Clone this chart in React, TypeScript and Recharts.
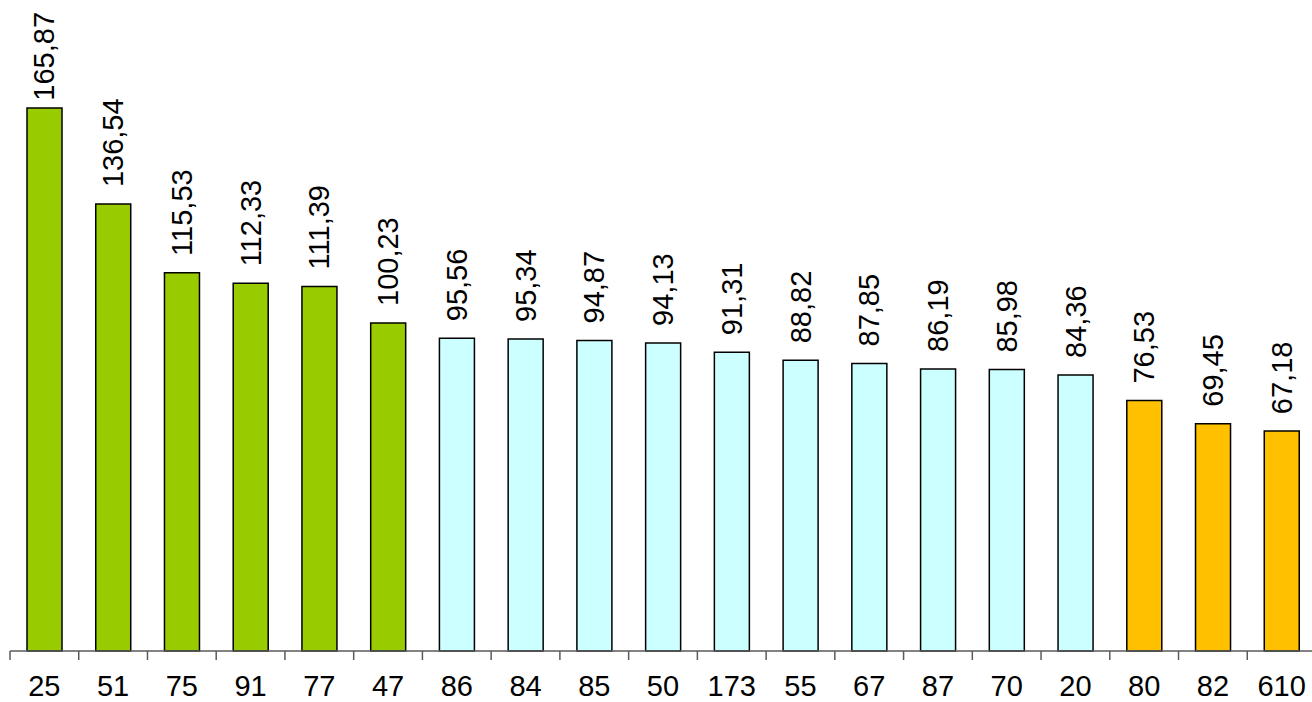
import { Bar, BarChart, Cell, LabelList, XAxis, YAxis } from 'recharts';

const categories = ['25', '51', '75', '91', '77', '47', '86', '84', '85', '50', '173', '55', '67', '87', '70', '20', '80', '82', '610'];
const values = [165.87, 136.54, 115.53, 112.33, 111.39, 100.23, 95.56, 95.34, 94.87, 94.13, 91.31, 88.82, 87.85, 86.19, 85.98, 84.36, 76.53, 69.45, 67.18];
const groups = ['green', 'green', 'green', 'green', 'green', 'green', 'cyan', 'cyan', 'cyan', 'cyan', 'cyan', 'cyan', 'cyan', 'cyan', 'cyan', 'cyan', 'orange', 'orange', 'orange'];

const groupColors: Record<string, string> = {
  green: '#99CC00',
  cyan: '#CCFFFF',
  orange: '#FFC000',
};

const data = categories.map((name, i) => ({ name, value: values[i], group: groups[i] }));

const FONT = 'Liberation Sans, Arial, sans-serif';
const CHART_W = 1320;
const MARGIN_LEFT = 10;
const MARGIN_RIGHT = 4;
const BAND = (CHART_W - MARGIN_LEFT - MARGIN_RIGHT) / categories.length;

const fmt = (v: number) => v.toFixed(2).replace('.', ',');

const textWidth = (s: string) => {
  let w = 0;
  for (const ch of s) w += ch === ',' ? 0.278 : 0.556;
  return w * 29;
};

const ValueLabel = (props: any) => {
  const { x, y, width, value } = props;
  const label = fmt(Number(value));
  const cx = Number(x) + Number(width) / 2;
  // keep the label inside the chart when the bar is too tall
  const bottom = Math.max(Number(y) - 17, 12 + textWidth(label));
  return (
    <text
      x={cx}
      y={bottom}
      transform={`rotate(-90, ${cx}, ${bottom})`}
      textAnchor="start"
      dominantBaseline="central"
      fontSize={29}
      fontFamily={FONT}
      fill="#000"
    >
      {label}
    </text>
  );
};

const CategoryTick = (props: any) => {
  const { x, y, payload } = props;
  const left = x - BAND / 2;
  return (
    <g>
      <line x1={left} y1={y} x2={left} y2={y + 9} stroke="#5a5a5a" strokeWidth={1.5} />
      <text x={x} y={y + 45} textAnchor="middle" fontSize={29} fontFamily={FONT} fill="#000">
        {payload.value}
      </text>
    </g>
  );
};

const App = () => {
  return (
    <div style={{ position: 'absolute', left: 0, top: 0, width: 1312, height: 702, overflow: 'hidden', background: '#fff' }}>
      <BarChart
        width={CHART_W}
        height={702}
        data={data}
        margin={{ top: 0, right: MARGIN_RIGHT, left: MARGIN_LEFT, bottom: 0 }}
        barSize={35}
      >
        <XAxis
          dataKey="name"
          height={51}
          interval={0}
          tickSize={0}
          tickMargin={0}
          tickLine={false}
          axisLine={{ stroke: '#5a5a5a', strokeWidth: 1.5 }}
          tick={<CategoryTick />}
        />
        <YAxis hide domain={[0, 198.9]} />
        <Bar dataKey="value" stroke="#000" strokeWidth={1.5} isAnimationActive={false}>
          {data.map((d, i) => (
            <Cell key={i} fill={groupColors[d.group]} />
          ))}
          <LabelList dataKey="value" content={<ValueLabel />} />
        </Bar>
      </BarChart>
    </div>
  );
};

export default App;
